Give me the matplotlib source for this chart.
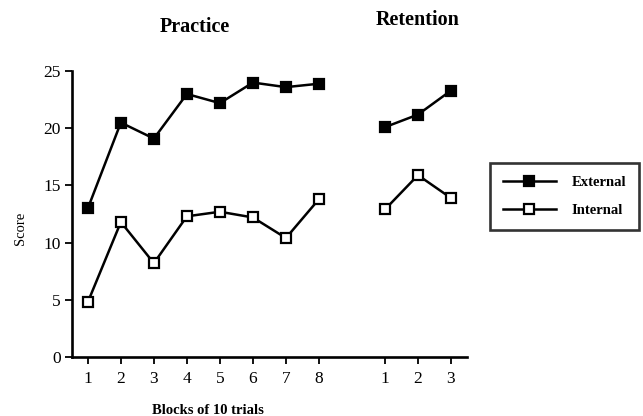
import matplotlib
matplotlib.use("Agg")
import matplotlib.pyplot as plt

practice_blocks = [1, 2, 3, 4, 5, 6, 7, 8]
retention_blocks = [1, 2, 3]
external_practice = [13.0, 20.5, 19.1, 23.0, 22.2, 24.0, 23.6, 23.9]
internal_practice = [4.8, 11.8, 8.2, 12.3, 12.7, 12.2, 10.4, 13.8]
external_retention = [20.1, 21.2, 23.3]
internal_retention = [12.9, 15.9, 13.9]
yticks = [0, 5, 10, 15, 20, 25]

plt.rcParams['font.family'] = ['Liberation Serif', 'DejaVu Serif']

fig = plt.figure(figsize=(6.43, 4.16), dpi=100)
ax = fig.add_axes([0.112, 0.142, 0.614, 0.687])

offset = 9  # retention blocks placed after a gap
xp = practice_blocks
xr = [b + offset for b in retention_blocks]

kw = dict(color='black', lw=1.8, markersize=7.5, markeredgewidth=1.6)
l1, = ax.plot(xp, external_practice, marker='s', markerfacecolor='black', **kw)
ax.plot(xr, external_retention, marker='s', markerfacecolor='black', **kw)
l2, = ax.plot(xp, internal_practice, marker='s', markerfacecolor='white', **kw)
ax.plot(xr, internal_retention, marker='s', markerfacecolor='white', **kw)

ax.set_xlim(0.52, 12.48)
ax.set_ylim(0, 25)
ax.set_xticks(xp + xr)
ax.set_xticklabels([str(b) for b in practice_blocks] + [str(b) for b in retention_blocks])
ax.set_yticks(yticks)
ax.tick_params(direction='out', length=5, width=1.3, labelsize=12.5, pad=3)
ax.tick_params(axis='x', pad=5)
for s in ['top', 'right']:
    ax.spines[s].set_visible(False)
for s in ['left', 'bottom']:
    ax.spines[s].set_linewidth(1.9)

ax.set_ylabel('Score', fontsize=10.5)
ax.yaxis.set_label_coords(-0.113, 0.45)
ax.set_xlabel('Blocks of 10 trials', fontsize=10.5, fontweight='bold')
ax.xaxis.set_label_coords(0.345, -0.165)

fig.text(0.303, 0.935, 'Practice', fontsize=14.5, fontweight='bold', ha='center', va='center')
fig.text(0.65, 0.952, 'Retention', fontsize=14.5, fontweight='bold', ha='center', va='center')

leg = fig.legend([l1, l2], ['External', 'Internal'], loc='lower left',
                 bbox_to_anchor=(490 / 643, 1 - 230 / 416), frameon=True, fancybox=False,
                 edgecolor='black', fontsize=10.5, handlelength=3.6, borderpad=0.9,
                 labelspacing=1.0, handletextpad=1.1, borderaxespad=0)
leg.get_frame().set_linewidth(1.9)
for t in leg.get_texts():
    t.set_fontweight('bold')

fig.savefig('out.png', dpi=100)
